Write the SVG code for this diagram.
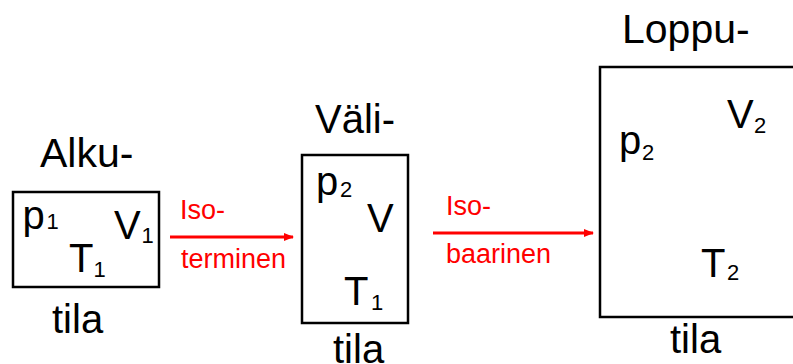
<svg xmlns="http://www.w3.org/2000/svg" width="793" height="364" viewBox="0 0 793 364">
<style>
.box{fill:#fff;stroke:#000;stroke-width:2.5}
.big{font-family:"Liberation Sans",Arial,sans-serif;font-size:40px;fill:#000}
.hd{font-size:41px}
.sub{font-family:"Liberation Sans",Arial,sans-serif;font-size:22px;fill:#000}
.red{font-family:"Liberation Sans",Arial,sans-serif;font-size:27px;fill:#ff0000}
.arr{stroke:#ff0000;stroke-width:3;fill:none}
</style>
<defs>
<marker id="ah" markerWidth="10" markerHeight="8" refX="9" refY="4" orient="auto" markerUnits="userSpaceOnUse">
<path d="M0,0 L10,4 L0,8 Z" fill="#ff0000"/>
</marker>
</defs>
<rect width="793" height="364" fill="#fff"/>
<g id="alku">
<text class="big hd" x="40" y="167">Alku-</text>
<rect class="box" x="13" y="192" width="146" height="95"/>
<text class="big" x="22.5" y="229">p</text><text class="sub" x="46.5" y="229">1</text>
<text class="big" x="114" y="239">V</text><text class="sub" x="141.5" y="243">1</text>
<text class="big" x="69" y="272">T</text><text class="sub" x="93.5" y="277">1</text>
<text class="big" x="52" y="333">tila</text>
</g>
<g id="vali">
<text class="big" x="315" y="133">Väli-</text>
<rect class="box" x="302" y="155" width="106" height="168"/>
<text class="big" x="316" y="195">p</text><text class="sub" x="340" y="197">2</text>
<text class="big" x="367" y="232">V</text>
<text class="big" x="344" y="305">T</text><text class="sub" x="371" y="310">1</text>
<text class="big" x="333" y="363">tila</text>
</g>
<g id="loppu">
<text class="big hd" x="622" y="43">Loppu-</text>
<rect class="box" x="600" y="67" width="210" height="250"/>
<text class="big" x="619" y="154">p</text><text class="sub" x="642" y="160">2</text>
<text class="big" x="727" y="128">V</text><text class="sub" x="754" y="133">2</text>
<text class="big" x="701" y="277">T</text><text class="sub" x="727" y="280">2</text>
<text class="big" x="670" y="353">tila</text>
</g>
<g id="connectors">
<line class="arr" x1="170" y1="237" x2="293" y2="237" marker-end="url(#ah)"/>
<text class="red" x="180" y="219">Iso-</text>
<text class="red" x="181" y="268">terminen</text>
<line class="arr" x1="433" y1="233" x2="593" y2="233" marker-end="url(#ah)"/>
<text class="red" x="446" y="215">Iso-</text>
<text class="red" x="446" y="263">baarinen</text>
</g>
</svg>
